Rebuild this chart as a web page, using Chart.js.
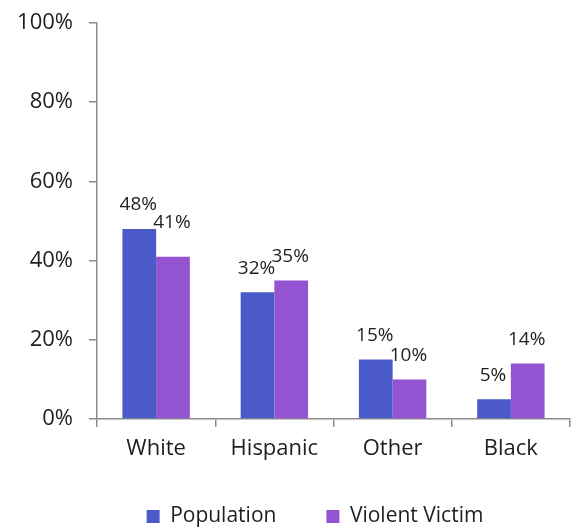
<!DOCTYPE html>
<html><head><meta charset="utf-8">
<script src="https://cdn.jsdelivr.net/npm/chart.js@4"></script>
<style>html,body{margin:0;padding:0;background:#fff}#wrap{width:573px;height:527px}</style>
</head><body><div id="wrap"><canvas id="c" width="573" height="527"></canvas></div>
<script>
const categories = ["White", "Hispanic", "Other", "Black"];
const population = [48, 32, 15, 5];
const violentVictim = [41, 35, 10, 14];
const yTicks = [0, 20, 40, 60, 80, 100];

const FONT = "'Open Sans', 'Noto Sans', sans-serif";
const TEXT = '#1e1e1e';

const labelPlugin = {
  id: 'barLabels',
  afterDatasetsDraw(chart) {
    const ctx = chart.ctx;
    ctx.save();
    ctx.font = "19px " + FONT;
    ctx.fillStyle = TEXT;
    ctx.textAlign = 'center';
    ctx.textBaseline = 'middle';
    chart.data.datasets.forEach((ds, di) => {
      const meta = chart.getDatasetMeta(di);
      meta.data.forEach((bar, i) => {
        const lift = (di === 1 && i === 0) ? 10 : 0;
        ctx.fillText(ds.data[i] + '%', bar.x - 1, bar.y - 24 - lift);
      });
    });
    ctx.restore();
  }
};

const legendFix = {
  id: 'legendFix',
  beforeInit(chart) {
    const lg = chart.legend;
    if (!lg) return;
    const origFit = lg.fit.bind(lg);
    lg.fit = function () { origFit(); this.height = 63; };
    lg.draw = function () {
      const ctx = chart.ctx;
      ctx.save();
      ctx.translate(30, -8);
      this._draw();
      ctx.restore();
    };
  }
};

new Chart(document.getElementById('c'), {
  type: 'bar',
  data: {
    labels: categories,
    datasets: [
      { label: 'Population', data: population, backgroundColor: '#4a5bc9', borderWidth: 0 },
      { label: 'Violent Victim', data: violentVictim, backgroundColor: '#9453d1', borderWidth: 0 }
    ]
  },
  options: {
    responsive: false,
    animation: false,
    devicePixelRatio: 1,
    layout: { padding: { top: 23, right: 3, left: 0, bottom: 0 } },
    categoryPercentage: 0.57,
    barPercentage: 1.0,
    plugins: {
      legend: {
        position: 'bottom',
        labels: {
          font: { family: FONT, size: 21 },
          color: TEXT,
          boxWidth: 13,
          boxHeight: 13,
          padding: 50
        }
      },
      tooltip: { enabled: false }
    },
    scales: {
      y: {
        min: 0, max: 100,
        afterBuildTicks(axis) { axis.ticks = yTicks.map(v => ({ value: v })); },
        afterFit(axis) { axis.width = 97; axis.paddingTop = 0; axis.paddingBottom = 0; },
        ticks: {
          callback: v => v + '%',
          font: { family: FONT, size: 22 },
          color: TEXT,
          padding: 16
        },
        grid: { drawOnChartArea: false, drawTicks: true, tickLength: 8, color: '#8c8c8c', lineWidth: 1.5 },
        border: { color: '#8c8c8c', width: 1.5 }
      },
      x: {
        afterFit(axis) { axis.height = 45; },
        ticks: {
          font: { family: FONT, size: 22 },
          color: TEXT,
          padding: 9
        },
        grid: { drawOnChartArea: false, drawTicks: true, tickLength: 8, color: '#8c8c8c', lineWidth: 1.5, offset: true },
        border: { color: '#8c8c8c', width: 1.5 }
      }
    }
  },
  plugins: [labelPlugin, legendFix]
});
</script></body></html>
